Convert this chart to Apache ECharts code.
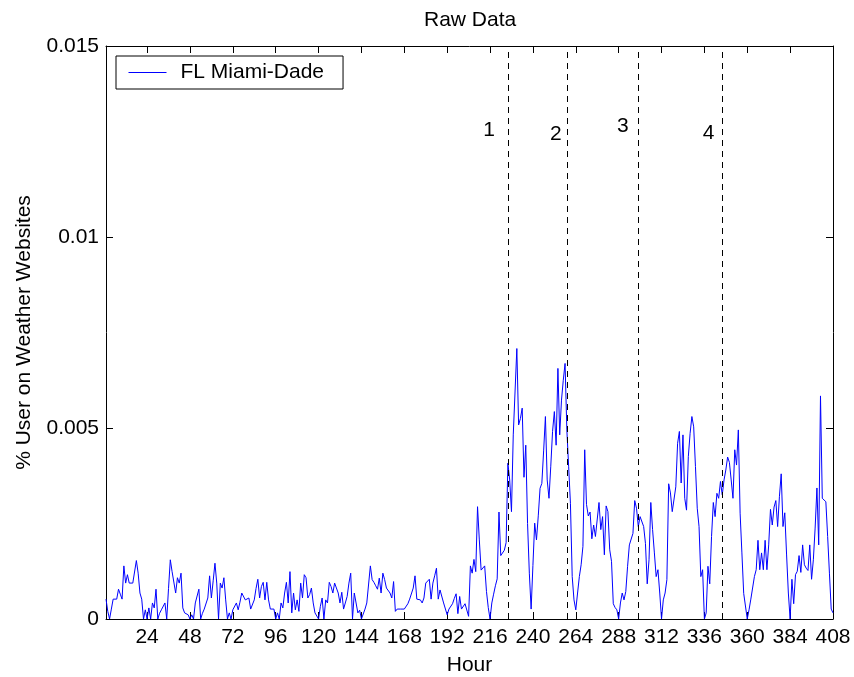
<!DOCTYPE html>
<html lang="en" style="height: 100%">
<head>
    <meta charset="UTF-8">
    <title>Raw Data</title>
    <script src="https://cdn.jsdelivr.net/npm/echarts@6/dist/echarts.min.js"></script>
</head>
<body style="height: 100%; margin: 0; background: #fff">
<div id="main" style="width: 854px; height: 677px"></div>
<script>
    // hourly share of users on weather websites, hours 1..408
    var firstHour = 1;
    var userShare = [
        0.00052, 0.0002, 0, 0.00026, 0.00052, 0.00052, 0.00052, 0.00078, 0.00065, 0.00052,
        0.00139, 0.00094, 0.00116, 0.00094, 0.00094, 0.00094, 0.00094, 0.00153, 0.0012, 0.00068,
        0.00052, 0, 0.00024, 0, 0.00029, 0, 0.00042, 0.00029, 0.00078, 0,
        0.00015, 0.00024, 0.00024, 0.00042, 0, 0.0008, 0.00155, 0.00124, 0.00124, 0.00068,
        0.00108, 0.00094, 0.0012, 0.00029, 0.00016, 0.00014, 0.00011, 0, 0.00011, 0,
        0.00042, 0.00042, 0.00078, 0, 0.00015, 0.00026, 0.00026, 0.00055, 0.00113, 0.00055,
        0.001, 0.00146, 0.00094, 0, 0.00094, 0.00081, 0.00108, 0.0005, 0, 0.00016,
        0, 0.00024, 0.00024, 0.00042, 0.00024, 0.00044, 0.00068, 0.00068, 0.0005, 0.00046,
        0.00055, 0.00026, 0.00026, 0.0005, 0.0008, 0.00104, 0.00055, 0.00085, 0.00096, 0.0005,
        0.00096, 0.0005, 0.00026, 0.00026, 0.00026, 0, 0.00016, 0, 0.00042, 0.00029,
        0.00068, 0.00096, 0.00042, 0.00124, 0.00016, 0.00068, 0.00024, 0.0005, 0.0002, 0.00094,
        0.00055, 0.00116, 0.00108, 0.00055, 0.00064, 0.00081, 0.00042, 0.00016, 0.00014, 0,
        0.00033, 0.00055, 0, 0.0005, 0.00042, 0.00096, 0.00085, 0.00068, 0.00094, 0.00094,
        0.00068, 0.00042, 0.0007, 0.00026, 0.00026, 0.00059, 0.00094, 0.0012, 0, 0.00068,
        0.00068, 0.00016, 0.00023, 0, 0, 0.00026, 0.00042, 0.00042, 0.00139, 0.00103,
        0.00096, 0.00087, 0.00078, 0.00107, 0.00068, 0.0012, 0.00103, 0.00081, 0.00078, 0.00068,
        0.00055, 0.00098, 0.0002, 0.00026, 0.00026, 0.00026, 0.00026, 0.00026, 0.00026, 0.0004,
        0.00052, 0.00052, 0.00081, 0.00113, 0.00052, 0.00055, 0.0005, 0.00042, 0.00055, 0.00094,
        0.00098, 0.00104, 0.00052, 0.00094, 0.00113, 0.00133, 0.00052, 0.00076, 0.00078, 0.00042,
        0.0004, 0.00011, 0.00026, 0.00026, 0.0004, 0.00054, 0.00066, 0.00014, 0.00059, 0.00026,
        0.00026, 0.0004, 0.00037, 0.00007, 0.00139, 0.0012, 0.00156, 0.00124, 0.00294, 0.00207,
        0.00128, 0.00133, 0.00139, 0.00072, 0.0003, 0, 0.00042, 0.00065, 0.00087, 0.00105,
        0.0028, 0.00166, 0.00166, 0.0018, 0.002, 0.00408, 0.00364, 0.00281, 0.00482, 0.00484,
        0.00708, 0.00508, 0.00525, 0.00552, 0.00371, 0.00455, 0.0025, 0.0012, 0.00026, 0.0014,
        0.00251, 0.00207, 0.0027, 0.00342, 0.00355, 0.0044, 0.0053, 0.00364, 0.00316, 0.004,
        0.00491, 0.00543, 0.00455, 0.00656, 0.00482, 0.00573, 0.00625, 0.00669, 0.00495, 0.004,
        0.00303, 0.00111, 0.0005, 0.00024, 0.00068, 0.00111, 0.00142, 0.0019, 0.00443, 0.003,
        0.0027, 0.0028, 0.0021, 0.00246, 0.00216, 0.00216, 0.00305, 0.00234, 0.00268, 0.00168,
        0.00296, 0.00281, 0.00181, 0.00151, 0.0004, 0.0003, 0.00024, 0, 0.00042, 0.00068,
        0.0005, 0.00072, 0.00138, 0.00194, 0.00194, 0.00224, 0.0031, 0.0029, 0.00242, 0.00268,
        0.00268, 0.00242, 0.00198, 0.00092, 0.00155, 0.00305, 0.00234, 0.00173, 0.00111, 0.00129,
        0.00068, 0, 0.0005, 0.00068, 0.00103, 0.00354, 0.0033, 0.00281, 0.00281, 0.00346,
        0.0046, 0.00491, 0.00356, 0.00482, 0.00316, 0.00285, 0.00425, 0.00486, 0.0053, 0.00503,
        0.00399, 0.0029, 0.00242, 0.00111, 0.00129, 0, 0.00016, 0.00138, 0.00092, 0.00216,
        0.00305, 0.00268, 0.00329, 0.00316, 0.0036, 0.00325, 0.00364, 0.0039, 0.00424, 0.0041,
        0.00364, 0.00316, 0.00443, 0.00403, 0.00495, 0.00277, 0.00173, 0.00067, 0.00067, 0,
        0.00024, 0.00052, 0.00052, 0.00111, 0.00129, 0.00206, 0.00129, 0.00173, 0.00129, 0.00206,
        0.00129, 0.00194, 0.00287, 0.00246, 0.00293, 0.0031, 0.00242, 0.0032, 0.0038, 0.00242,
        0.00278, 0.0017, 0.00068, 0, 0.00104, 0.0004, 0.00116, 0.00125, 0.00166, 0.00122,
        0.00194, 0.00142, 0.00133, 0.00127, 0.00194, 0.00104, 0.00155, 0.00238, 0.00343, 0.00194,
        0.00584, 0.00316, 0.00316, 0.00307, 0.00216, 0.0012, 0.00026, 0.00016
    ];
    var xTicks = [24, 48, 72, 96, 120, 144, 168, 192, 216, 240, 264, 288, 312, 336, 360, 384, 408];
    var yTicks = [0, 0.005, 0.01, 0.015];

    // dashed event lines and their numbers
    var eventHours = [226, 259, 299, 346];
    var eventNames = ['1', '2', '3', '4'];
    var eventLabelHours = [215.4, 252.8, 290.4, 338.4];
    var eventLabelValues = [0.0128, 0.0127, 0.0129, 0.01273];

    var font = "'Liberation Sans', Arial, sans-serif";

    var seriesData = userShare.map(function (v, i) { return [firstHour + i, v]; });

    function boxAxis(showLabels) {
        return {
            axisLine: {show: true, onZero: false, lineStyle: {color: '#000', width: 1}},
            axisTick: {show: true, inside: true, length: 7, lineStyle: {color: '#000'}},
            splitLine: {show: false},
            axisLabel: {show: showLabels, color: '#000', fontSize: 21, fontFamily: font}
        };
    }

    var xBottom = boxAxis(true);
    xBottom.type = 'value';
    xBottom.position = 'bottom';
    xBottom.min = firstHour;
    xBottom.max = 408;
    xBottom.axisTick.customValues = xTicks;
    xBottom.axisLabel.customValues = xTicks;
    xBottom.axisLabel.margin = 8;
    xBottom.name = 'Hour';
    xBottom.nameLocation = 'middle';
    xBottom.nameGap = 36;
    xBottom.nameTextStyle = {color: '#000', fontSize: 21, fontFamily: font};

    var xTop = boxAxis(false);
    xTop.type = 'value';
    xTop.position = 'top';
    xTop.min = firstHour;
    xTop.max = 408;
    xTop.axisTick.customValues = xTicks;

    var yLeft = boxAxis(true);
    yLeft.type = 'value';
    yLeft.position = 'left';
    yLeft.min = yTicks[0];
    yLeft.max = yTicks[yTicks.length - 1];
    yLeft.interval = 0.005;
    yLeft.axisLabel.margin = 7;
    yLeft.axisLabel.formatter = function (v) { return String(+v.toFixed(3)); };
    yLeft.name = '% User on Weather Websites';
    yLeft.nameLocation = 'middle';
    yLeft.nameGap = 71;
    yLeft.nameTextStyle = {color: '#000', fontSize: 21, fontFamily: font};

    var yRight = boxAxis(false);
    yRight.type = 'value';
    yRight.position = 'right';
    yRight.min = yTicks[0];
    yRight.max = yTicks[yTicks.length - 1];
    yRight.interval = 0.005;

    var option = {
        animation: false,
        backgroundColor: '#fff',
        title: {
            text: 'Raw Data',
            left: 419,
            top: 5,
            textStyle: {color: '#000', fontSize: 21, fontWeight: 'normal', fontFamily: font}
        },
        legend: {
            data: ['FL Miami-Dade'],
            left: 116,
            top: 56,
            orient: 'vertical',
            backgroundColor: '#fff',
            borderColor: '#000',
            borderWidth: 1,
            padding: [6, 19, 6, 12],
            itemWidth: 38,
            itemHeight: 14,
            itemStyle: {opacity: 0},
            lineStyle: {color: '#0000ff', width: 1},
            textStyle: {color: '#000', fontSize: 21, fontFamily: font, padding: [0, 0, 0, 9]}
        },
        grid: {left: 106, right: 21, top: 46, bottom: 58, outerBoundsMode: 'none'},
        xAxis: [xBottom, xTop],
        yAxis: [yLeft, yRight],
        series: [{
            name: 'FL Miami-Dade',
            type: 'line',
            data: seriesData,
            symbol: 'none',
            lineStyle: {color: '#0000ff', width: 1},
            itemStyle: {color: '#0000ff'},
            markLine: {
                silent: true,
                symbol: 'none',
                label: {show: false},
                lineStyle: {color: '#000', width: 1, type: [6, 5]},
                data: eventHours.map(function (h) { return {xAxis: h}; })
            },
            markPoint: {
                silent: true,
                symbol: 'circle',
                symbolSize: 0,
                label: {
                    show: true,
                    position: 'inside',
                    color: '#000',
                    fontSize: 21,
                    fontFamily: font,
                    formatter: function (p) { return p.name; }
                },
                data: eventNames.map(function (n, i) {
                    return {name: n, coord: [eventLabelHours[i], eventLabelValues[i]]};
                })
            }
        }]
    };

    var myChart = echarts.init(document.getElementById('main'));
    myChart.setOption(option);
</script>
</body>
</html>
